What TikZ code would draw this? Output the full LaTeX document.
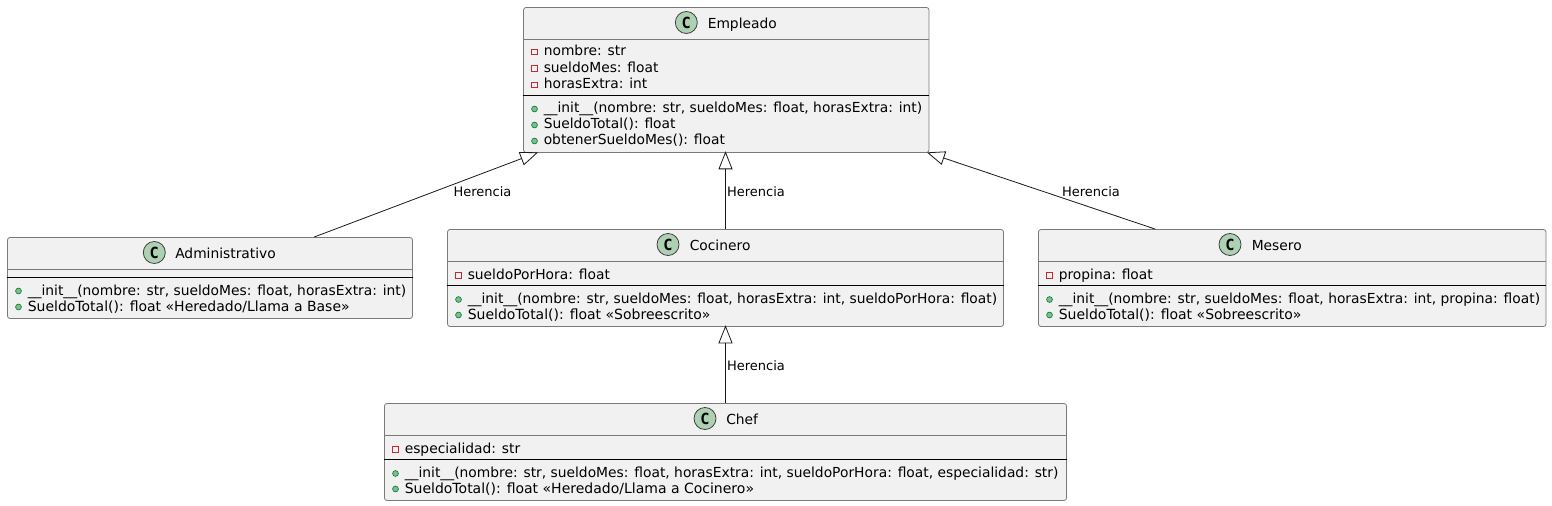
\documentclass[tikz,border=0pt]{standalone}
\usepackage{fontspec}
\setmainfont{DejaVu Sans}
\newfontfamily\iconfont{DejaVu Sans Mono}
\usetikzlibrary{arrows.meta,calc,fit}
\definecolor{boxfill}{HTML}{F1F1F1}
\definecolor{boxline}{HTML}{7A7A7A}
\definecolor{iconfill}{HTML}{ADD1B2}
\definecolor{privred}{HTML}{C82930}
\definecolor{pubgreen}{HTML}{84BE84}
\definecolor{publine}{HTML}{038048}
\tikzset{
  classbox/.style={draw=boxline,fill=boxfill,line width=.6pt,rounded corners=1.9pt,inner sep=0pt},
  headsep/.style={draw=boxline,line width=.6pt},
  membersep/.style={draw=black,line width=.6pt},
  member/.style={anchor=base west,inner sep=0pt,font=\fontsize{10.37}{12}\selectfont},
  widemember/.style={member,font=\fontsize{10.5}{12}\selectfont},
  title/.style={anchor=base west,inner sep=0pt,font=\fontsize{10.37}{12}\selectfont},
  classicon/.style={circle,draw=black!75,fill=iconfill,line width=.6pt,minimum size=16.5pt,inner sep=0pt,
    font=\iconfont\fontsize{11.5}{12}\bfseries\selectfont},
  relation/.style={line width=.6pt,draw=black!90,shorten <=-1.2pt,{Triangle[open,length=13.5pt,width=10.5pt,line width=.6pt]}-},
  relname/.style={inner sep=0pt,font=\fontsize{9.75}{12}\selectfont}
}
% name, left, top, right, bottom, line under the title, line between members
\newcommand{\classbox}[7]{
  \node[classbox,fit={(#2,#3) (#4,#5)}] (#1) {};
  \draw[headsep] (#1.west |- 0,#6) -- (#1.east |- 0,#6);
  \draw[membersep] (#1.west |- 0,#7) -- (#1.east |- 0,#7);
}
% name, icon x, text x, baseline, text
\newcommand{\classtitle}[5]{
  \node[classicon] (#1icon) at (#2,#4-6) {C};
  \node[title] (#1title) at (#3,#4) {#5};
}
% name, left of the box, baseline, text
\newcommand{\attr}[4]{
  \draw[privred,line width=.6pt,fill=boxfill] (#2+8,#3-7) rectangle (#2+13.5,#3-1.5);
  \node[member] (#1) at (#2+20,#3) {#4};
}
\newcommand{\meth}[5][member]{
  \fill[pubgreen,draw=publine,line width=.5pt] (#3+11,#4-4) circle (2.9);
  \node[#1] (#2) at (#3+20,#4) {#5};
}
\begin{document}
\begin{tikzpicture}[x=.75pt,y=-.75pt]
  \useasboundingbox (0,0) rectangle (1552,506);

  \classbox{Empleado}{523.5}{7.5}{929}{152.5}{39.5}{95.5}
  \classtitle{Empleado}{686.3}{707.5}{28.5}{Empleado}
  \attr{empA}{523.5}{56}{nombre: str}
  \attr{empB}{523.5}{72.5}{sueldoMes: float}
  \attr{empC}{523.5}{89}{horasExtra: int}
  \meth{empD}{523.5}{113}{\_\_init\_\_(nombre: str, sueldoMes: float, horasExtra: int)}
  \meth{empE}{523.5}{129}{SueldoTotal(): float}
  \meth{empF}{523.5}{145}{obtenerSueldoMes(): float}

  \classbox{Administrativo}{7.5}{237.5}{412.5}{318.5}{269.5}{277.5}
  \classtitle{Administrativo}{154.3}{175}{258.5}{Administrativo}
  \meth{admA}{7.5}{295}{\_\_init\_\_(nombre: str, sueldoMes: float, horasExtra: int)}
  \meth[widemember]{admB}{7.5}{311}{SueldoTotal(): float «Heredado/Llama a Base»}

  \classbox{Cocinero}{447.5}{229.5}{1003.5}{326.5}{261.5}{285.5}
  \classtitle{Cocinero}{668}{689.5}{250.5}{Cocinero}
  \attr{cocA}{447.5}{279.5}{sueldoPorHora: float}
  \meth{cocB}{447.5}{303.5}{\_\_init\_\_(nombre: str, sueldoMes: float, horasExtra: int, sueldoPorHora: float)}
  \meth[widemember]{cocC}{447.5}{319}{SueldoTotal(): float «Sobreescrito»}

  \classbox{Mesero}{1038.5}{229.5}{1546}{326.5}{261.5}{285.5}
  \classtitle{Mesero}{1230}{1251.5}{250.5}{Mesero}
  \attr{mesA}{1038.5}{279.5}{propina: float}
  \meth{mesB}{1038.5}{303.5}{\_\_init\_\_(nombre: str, sueldoMes: float, horasExtra: int, propina: float)}
  \meth[widemember]{mesC}{1038.5}{319}{SueldoTotal(): float «Sobreescrito»}

  \classbox{Chef}{384.5}{403.5}{1066.5}{500.5}{435.5}{459.5}
  \classtitle{Chef}{705}{726}{424.5}{Chef}
  \attr{chefA}{384.5}{453.5}{especialidad: str}
  \meth{chefB}{384.5}{477.5}{\_\_init\_\_(nombre: str, sueldoMes: float, horasExtra: int, sueldoPorHora: float, especialidad: str)}
  \meth[widemember]{chefC}{384.5}{493}{SueldoTotal(): float «Heredado/Llama a Cocinero»}

  \draw[relation] ($(Empleado.south west)+(13.5,0)$) -- ($(Administrativo.north)+(104,0)$);
  \draw[relation] (Cocinero.north |- Empleado.south) -- (Cocinero.north);
  \draw[relation] ($(Empleado.south east)+(-1,0)$) -- ($(Mesero.north)+(-137,0)$);
  \draw[relation] (Cocinero.south) -- (Cocinero.south |- Chef.north);

  \node[relname] (relAdm) at (482.5,191.5) {Herencia};
  \node[relname] (relCoc) at (756,191.5) {Herencia};
  \node[relname] (relMes) at (1091,191.5) {Herencia};
  \node[relname] (relChef) at (756,366) {Herencia};
\end{tikzpicture}
\end{document}
